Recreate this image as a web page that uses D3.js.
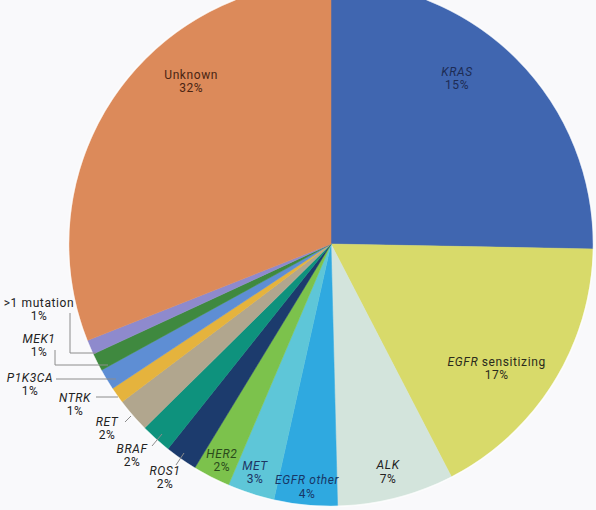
<!DOCTYPE html>
<html lang="en">
<head>
    <meta charset="UTF-8">
    <title>Lung adenocarcinoma drivers</title>
    <script src="https://d3js.org/d3.v7.min.js"></script>
    <style>
    body {
        margin: 0;
        background: #f9f9fb;
    }

    text {
        font-family: Roboto, "Liberation Sans", sans-serif;
        font-size: 12px;
        letter-spacing: 0.6px;
    }

    .leader {
        fill: none;
        stroke: #8c8c8c;
        stroke-width: 1;
    }
    </style>
</head>
<body>
    <script>
// slices, clockwise from 12 o'clock
const names = ["KRAS", "EGFR sensitizing", "ALK", "EGFR other", "MET", "HER2", "ROS1",
    "BRAF", "RET", "NTRK", "P1K3CA", "MEK1", ">1 mutation", "Unknown"];
// share of the circle
const values = [25.3, 17.1, 7.2, 3.9, 2.9, 2.3, 2.0, 1.9, 2.1, 1.0, 1.3, 1.1, 0.9, 31.0];
// percentages as printed on the chart
const pctLabels = ["15%", "17%", "7%", "4%", "3%", "2%", "2%", "2%", "2%", "1%", "1%", "1%", "1%", "32%"];
const colors = ["#4066b0", "#d8da6a", "#d3e4dc", "#2fa9e0", "#5ec6d8", "#7cc24c", "#1c3b6d",
    "#0e927d", "#b1a68e", "#e5b33d", "#5e8ed4", "#3f893f", "#8e8acd", "#dc8a5a"];

const width = 596;
const height = 510;
const cx = 331, cy = 244, radius = 262;

// label placement: inside labels in polar coords (deg, px), outside ones in page coords
const inside = {
    "KRAS": {a: 37.5, r: 207, fill: "#1d2c55"},
    "EGFR sensitizing": {a: 127.2, r: 208, fill: "#2b2b1c"},
    "ALK": {a: 166, r: 236, fill: "#222"},
    "EGFR other": {a: 185.6, r: 245, fill: "#183766"},
    "MET": {a: 198.3, r: 242, fill: "#1d3563"},
    "HER2": {a: 206.7, r: 243, fill: "#2a4a1b"},
    "Unknown": {a: 319.2, r: 214, fill: "#4a2412"}
};
const outside = {
    "ROS1": {x: 165, y: 478, leader: [[176, 465], [184, 453]]},
    "BRAF": {x: 132, y: 456, leader: [[152, 446], [162, 434]]},
    "RET": {x: 107, y: 429, leader: [[125, 422], [131, 416]]},
    "NTRK": {x: 75, y: 405, leader: [[96, 397], [118, 397]]},
    "P1K3CA": {x: 30, y: 385, leader: [[56, 379], [116, 379]]},
    "MEK1": {x: 39, y: 346, leader: [[55, 350], [55, 365], [108, 365]]},
    ">1 mutation": {x: 39, y: 310, leader: [[70, 313], [70, 353], [96, 353]]}
};
const upright = ["Unknown", ">1 mutation"];

const data = names.map((n, i) => ({name: n, value: values[i], pct: pctLabels[i], color: colors[i]}));

const svg = d3.select("body")
    .append("svg")
    .attr("width", width)
    .attr("height", height);

svg.append("rect")
    .attr("width", width)
    .attr("height", height)
    .attr("fill", "#f9f9fb");

const pie = d3.pie()
    .sort(null)
    .value(d => d.value);

const arc = d3.arc()
    .innerRadius(0)
    .outerRadius(radius);

const g = svg.append("g")
    .attr("transform", `translate(${cx},${cy})`);

g.selectAll("path")
    .data(pie(data))
    .join("path")
    .attr("d", arc)
    .attr("fill", d => d.data.color)
    .attr("stroke", d => d.data.color)
    .attr("stroke-width", 0.5);

// faint light rim round the pie
g.append("circle")
    .attr("r", radius + 0.5)
    .attr("fill", "none")
    .attr("stroke", "#ffffff")
    .attr("stroke-width", 1.5)
    .attr("opacity", 0.7);

// leader lines for the thin slices
svg.append("g")
    .selectAll("polyline")
    .data(Object.values(outside))
    .join("polyline")
    .attr("class", "leader")
    .attr("points", d => d.leader.map(p => p.join(",")).join(" "));

function addName(t, name) {
    if (name === "EGFR sensitizing") {
        t.append("tspan").attr("font-style", "italic").text("EGFR");
        t.append("tspan").text(" sensitizing");
    } else {
        t.append("tspan")
            .attr("font-style", upright.includes(name) ? "normal" : "italic")
            .text(name);
    }
}

function label(x, y, d, fill) {
    const t = svg.append("text")
        .attr("x", x)
        .attr("y", y - 6.5)
        .attr("text-anchor", "middle")
        .attr("dominant-baseline", "middle")
        .attr("fill", fill);
    addName(t, d.name);
    svg.append("text")
        .attr("x", x)
        .attr("y", y + 6.5)
        .attr("text-anchor", "middle")
        .attr("dominant-baseline", "middle")
        .attr("fill", fill)
        .text(d.pct);
}

data.forEach(d => {
    if (inside[d.name]) {
        const p = inside[d.name];
        const [x, y] = d3.pointRadial(p.a * Math.PI / 180, p.r);
        label(cx + x, cy + y, d, p.fill);
    } else {
        const p = outside[d.name];
        label(p.x, p.y, d, "#222");
    }
});
    </script>
</body>
</html>
